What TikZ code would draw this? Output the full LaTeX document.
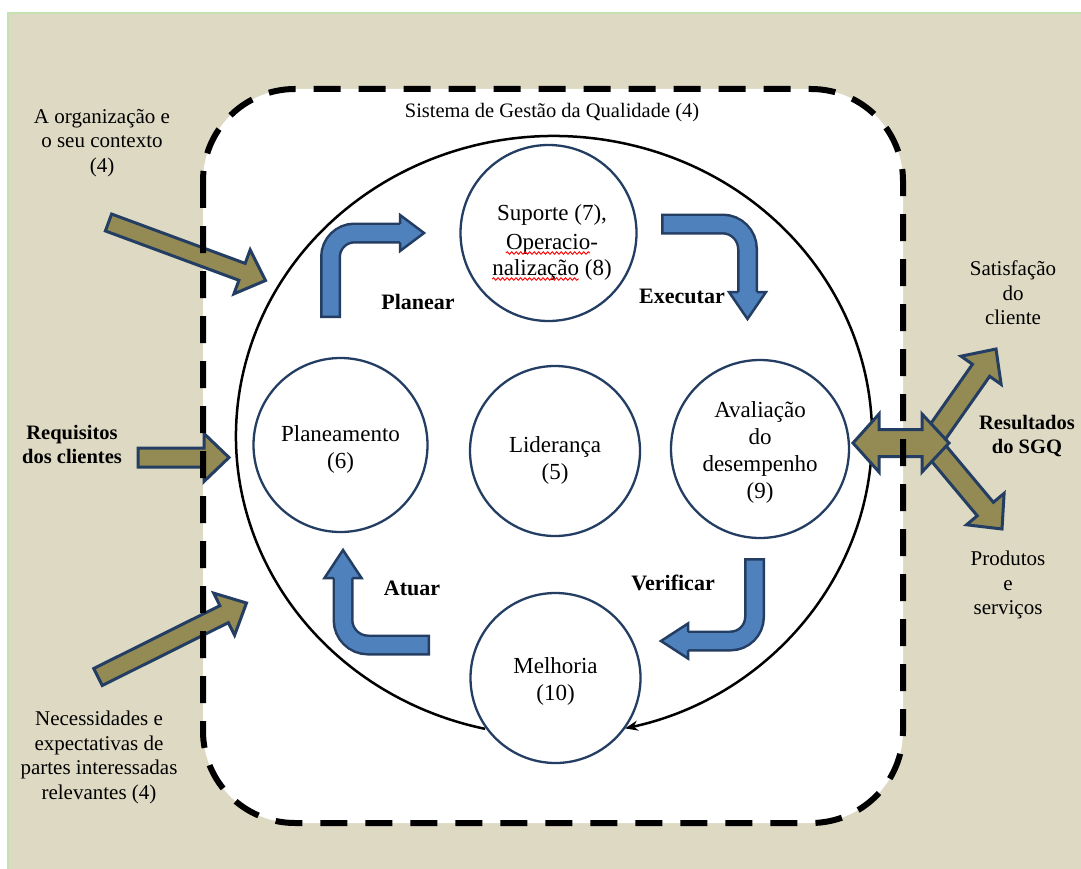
\documentclass[tikz,border=0pt]{standalone}
\usepackage{fontspec}
\setmainfont{Liberation Serif}
\newfontfamily\timesface{Liberation Serif}
\usetikzlibrary{arrows.meta,calc,decorations.pathmorphing}

\definecolor{paper}{RGB}{221,217,195}
\definecolor{frameline}{RGB}{196,225,178}
\definecolor{navy}{RGB}{36,62,99}
\definecolor{olive}{RGB}{148,138,84}
\definecolor{steel}{RGB}{79,129,189}

% straight olive block arrow: tail, tip, body half width, head half width, head length
\newcommand\blockarrow[5]{%
  \coordinate (ba-q) at ($(#2)!#5!(#1)$);
  \filldraw[oliveblock] ($(#1)!#3!90:(#2)$) -- ($(ba-q)!#3!90:(#2)$) -- ($(ba-q)!#4!90:(#2)$)
    -- (#2) -- ($(ba-q)!#4!-90:(#2)$) -- ($(ba-q)!#3!-90:(#2)$) -- ($(#1)!#3!-90:(#2)$) -- cycle;}

% bent blue arrow: tail, corner, head base, tip, head half width, corner radius
\newcommand\bentarrow[6]{%
  \draw[bandline, rounded corners=#6] (#1) -- (#2) -- (#3);
  \draw[bandfill, rounded corners=#6, shorten <=2.5pt] (#1) -- (#2) -- (#3);
  \fill[steel] ($(#3)!#5!90:(#4)$) -- (#4) -- ($(#3)!#5!-90:(#4)$) -- cycle;
  \draw[navy, line width=2.5pt, line join=miter]
    ($(#3)!9.25pt!90:(#4)$) -- ($(#3)!#5!90:(#4)$) -- (#4) -- ($(#3)!#5!-90:(#4)$) -- ($(#3)!9.25pt!-90:(#4)$);}

\begin{document}
\begin{tikzpicture}[x=1pt, y=-1pt,
  bubble/.style={circle, draw=navy, line width=2.3pt, fill=white, inner sep=0pt},
  ctext/.style={align=center, font=\timesface\fontsize{23}{27}\selectfont, inner sep=0pt},
  sidetext/.style={align=center, font=\timesface\fontsize{21}{24.5}\selectfont, inner sep=0pt},
  sidebold/.style={align=center, font=\timesface\fontsize{20.5}{24}\selectfont\bfseries, inner sep=0pt},
  phase/.style={font=\timesface\fontsize{22}{26}\selectfont\bfseries, inner sep=0pt},
  oliveblock/.style={fill=olive, draw=navy, line width=3pt, line join=miter},
  bandline/.style={navy, line width=21pt},
  bandfill/.style={steel, line width=16pt},
  spellcheck/.style={red, line width=0.9pt, decorate, decoration={snake, amplitude=1.2pt, segment length=4.5pt}},
  cycleline/.style={black, line width=2.5pt, -{Stealth[length=13pt,width=10pt]}},
  sgqframe/.style={black, line width=6pt, dash pattern=on 27pt off 18pt, rounded corners=92pt}]

\useasboundingbox (0,0) rectangle (1081,869);

% page and beige panel
\fill[white] (0,0) rectangle (1081,869);
\fill[paper] (8,13) rectangle (1081,869);
\draw[frameline, line width=1.5pt] (8,869) -- (8,13) -- (1081,13);

% white interior of the quality management system
\fill[white, rounded corners=92pt] (203,89) rectangle (903,823);

% process circles
\node[bubble, minimum size=176pt] (sup) at (548.5,233) {};
\node[bubble, minimum size=174pt] (plan) at (340.5,445) {};
\node[bubble, minimum size=170pt] (lid) at (555,451) {};
\node[bubble, minimum size=178pt] (aval) at (760,449) {};
\node[bubble, minimum size=170pt] (melh) at (555.5,678) {};

\node[ctext, anchor=base] (sup-l1) at (552,220) {Suporte (7),};
\node[ctext, anchor=base] (sup-l2) at (552,249) {Operacio-};
\node[ctext, anchor=base] (sup-l3) at (552,275) {nalização (8)};
\draw[spellcheck] ($(sup-l2.base west)+(0,4)$) -- ($(sup-l2.base east)+(-8,4)$);
\draw[spellcheck] ($(sup-l3.base west)+(0,4)$) -- ($(sup-l3.base east)+(-33,4)$);
\node[ctext] (plan-t) at ($(plan.center)+(0,4)$) {Planeamento\\(6)};
\node[ctext] (lid-t) at ($(lid.center)+(0,9.5)$) {Liderança\\(5)};
\node[ctext] (aval-t) at ($(aval.center)+(0,3.5)$) {Avaliação\\do\\desempenho\\(9)};
\node[ctext] (melh-t) at ($(melh.center)+(0,3)$) {Melhoria\\(10)};

% improvement cycle (clockwise, ending at Melhoria)
\coordinate (cyc) at (554,436);
\draw[cycleline] ($(cyc)+(257.5:318pt and 300pt)$) arc[start angle=257.5, end angle=-77.1, x radius=318pt, y radius=300pt];

% PDCA bent arrows
\coordinate (pl-a) at (330.5,318); \coordinate (pl-b) at (330.5,233);
\coordinate (pl-c) at (400,233);   \coordinate (pl-d) at (424,233);
\bentarrow{pl-a}{pl-b}{pl-c}{pl-d}{18pt}{24pt}

\coordinate (ex-a) at (661,224);   \coordinate (ex-b) at (747.5,224);
\coordinate (ex-c) at (747.5,292); \coordinate (ex-d) at (747.5,319);
\bentarrow{ex-a}{ex-b}{ex-c}{ex-d}{18.5pt}{25pt}

\coordinate (ve-a) at (754.5,558); \coordinate (ve-b) at (754.5,641);
\coordinate (ve-c) at (688,641);   \coordinate (ve-d) at (661,641);
\bentarrow{ve-a}{ve-b}{ve-c}{ve-d}{17.5pt}{24pt}

\coordinate (at-a) at (430,645);   \coordinate (at-b) at (343,645);
\coordinate (at-c) at (343,578);   \coordinate (at-d) at (343,550);
\bentarrow{at-a}{at-b}{at-c}{at-d}{18.5pt}{25pt}

\node[phase] (planear) at (418,302) {Planear};
\node[phase] (executar) at (682,296) {Executar};
\node[phase] (verificar) at (673,583) {Verificar};
\node[phase] (atuar) at (412,588) {Atuar};

% inputs
\coordinate (ctx-a) at (108.5,222.5); \coordinate (ctx-b) at (265.5,280.5);
\blockarrow{ctx-a}{ctx-b}{9pt}{23.5pt}{25pt}
\coordinate (req-a) at (138,457.5);   \coordinate (req-b) at (229,457.5);
\blockarrow{req-a}{req-b}{9.5pt}{24pt}{25pt}
\coordinate (nec-a) at (98,677);      \coordinate (nec-b) at (246.5,603);
\blockarrow{nec-a}{nec-b}{9.5pt}{23.5pt}{25pt}

% outputs
\coordinate (out-o) at (930,443);
\coordinate (sat-b) at (996,349);
\coordinate (prd-b) at (1002,529);
\blockarrow{out-o}{sat-b}{10.5pt}{24.5pt}{26pt}
\blockarrow{out-o}{prd-b}{10.5pt}{24.5pt}{26pt}
\filldraw[oliveblock] (853,443) -- (879,414) -- (879,429.5) -- (922,429.5) -- (922,414)
  -- (949,443) -- (922,472) -- (922,456.5) -- (879,456.5) -- (879,472) -- cycle;

% dashed boundary of the system
\draw[sgqframe] (203,89) rectangle (903,823);

% texts
\node[font=\timesface\fontsize{20.5}{24}\selectfont, inner sep=0pt] (title) at (552,113) {Sistema de Gestão da Qualidade (4)};
\node[sidetext] (ctx) at (102,143) {A organização e\\o seu contexto\\(4)};
\node[sidebold] (req) at (72,444) {Requisitos\\dos clientes};
\node[sidetext] (nec) at (99,757.5) {Necessidades e\\expectativas de\\partes interessadas\\relevantes (4)};
\node[sidetext] (sat) at (1013,293) {Satisfação\\do\\cliente};
\node[sidebold] (res) at (1027,436) {Resultados\\do SGQ};
\node[sidetext] (prd) at (1008,585) {Produtos\\e\\serviços};
\end{tikzpicture}
\end{document}
